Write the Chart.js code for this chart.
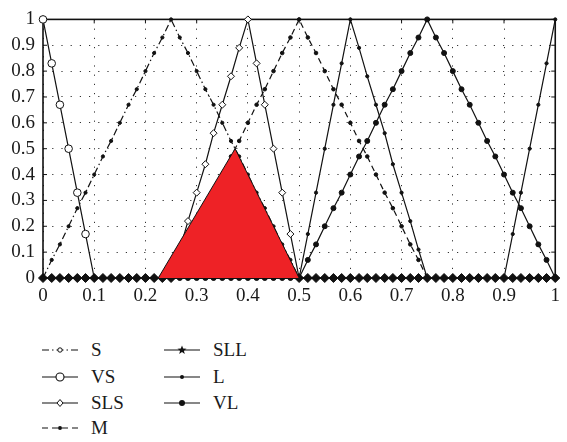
<!DOCTYPE html>
<html>
<head>
<meta charset="utf-8">
<script src="https://cdn.jsdelivr.net/npm/chart.js@4"></script>
<style>
  body { margin: 0; background: #fff; width: 567px; height: 442px; overflow: hidden; position: relative; font-family: "Liberation Serif", serif; }
  #wrap { position: absolute; left: 0; top: 0; width: 567px; height: 308px; }
  .leg { position: absolute; height: 20px; font-size: 19px; line-height: 20px; color: #1a1a1a; }
  .leg svg { position: absolute; left: 0; top: 0; }
  .leg span { position: absolute; top: 0; white-space: nowrap; }
</style>
</head>
<body>
<div id="wrap"><canvas id="fuzzyChart"></canvas></div>
<div id="legend"></div>
<script>
// sample positions on the universe [0, 1]
const xs = [
  0, 0.017, 0.033, 0.05, 0.067, 0.083, 0.1, 0.117, 0.133, 0.15,
  0.167, 0.183, 0.2, 0.217, 0.233, 0.25, 0.267, 0.283, 0.3, 0.317,
  0.333, 0.35, 0.367, 0.383, 0.4, 0.417, 0.433, 0.45, 0.467, 0.483,
  0.5, 0.517, 0.533, 0.55, 0.567, 0.583, 0.6, 0.617, 0.633, 0.65,
  0.667, 0.683, 0.7, 0.717, 0.733, 0.75, 0.767, 0.783, 0.8, 0.817,
  0.833, 0.85, 0.867, 0.883, 0.9, 0.917, 0.933, 0.95, 0.967, 0.983,
  1
];

const vsVals = [
  1, 0.83, 0.67, 0.5, 0.33, 0.17, 0, 0, 0, 0,
  0, 0, 0, 0, 0, 0, 0, 0, 0, 0,
  0, 0, 0, 0, 0, 0, 0, 0, 0, 0,
  0, 0, 0, 0, 0, 0, 0, 0, 0, 0,
  0, 0, 0, 0, 0, 0, 0, 0, 0, 0,
  0, 0, 0, 0, 0, 0, 0, 0, 0, 0,
  0
];
const sVals = [
  0, 0.07, 0.13, 0.2, 0.27, 0.33, 0.4, 0.47, 0.53, 0.6,
  0.67, 0.73, 0.8, 0.87, 0.93, 1, 0.93, 0.87, 0.8, 0.73,
  0.67, 0.6, 0.53, 0.47, 0.4, 0.33, 0.27, 0.2, 0.13, 0.07,
  0, 0, 0, 0, 0, 0, 0, 0, 0, 0,
  0, 0, 0, 0, 0, 0, 0, 0, 0, 0,
  0, 0, 0, 0, 0, 0, 0, 0, 0, 0,
  0
];
const slsVals = [
  0, 0, 0, 0, 0, 0, 0, 0, 0, 0,
  0, 0, 0, 0, 0, 0, 0.11, 0.22, 0.33, 0.44,
  0.56, 0.67, 0.78, 0.89, 1, 0.83, 0.67, 0.5, 0.33, 0.17,
  0, 0, 0, 0, 0, 0, 0, 0, 0, 0,
  0, 0, 0, 0, 0, 0, 0, 0, 0, 0,
  0, 0, 0, 0, 0, 0, 0, 0, 0, 0,
  0
];
const mVals = [
  0, 0, 0, 0, 0, 0, 0, 0, 0, 0,
  0, 0, 0, 0, 0, 0, 0.07, 0.13, 0.2, 0.27,
  0.33, 0.4, 0.47, 0.53, 0.6, 0.67, 0.73, 0.8, 0.87, 0.93,
  1, 0.93, 0.87, 0.8, 0.73, 0.67, 0.6, 0.53, 0.47, 0.4,
  0.33, 0.27, 0.2, 0.13, 0.07, 0, 0, 0, 0, 0,
  0, 0, 0, 0, 0, 0, 0, 0, 0, 0,
  0
];
const sllVals = [
  0, 0, 0, 0, 0, 0, 0, 0, 0, 0,
  0, 0, 0, 0, 0, 0, 0, 0, 0, 0,
  0, 0, 0, 0, 0, 0, 0, 0, 0, 0,
  0, 0.17, 0.33, 0.5, 0.67, 0.83, 1, 0.89, 0.78, 0.67,
  0.56, 0.44, 0.33, 0.22, 0.11, 0, 0, 0, 0, 0,
  0, 0, 0, 0, 0, 0, 0, 0, 0, 0,
  0
];
const lVals = [
  0, 0, 0, 0, 0, 0, 0, 0, 0, 0,
  0, 0, 0, 0, 0, 0, 0, 0, 0, 0,
  0, 0, 0, 0, 0, 0, 0, 0, 0, 0,
  0, 0.07, 0.13, 0.2, 0.27, 0.33, 0.4, 0.47, 0.53, 0.6,
  0.67, 0.73, 0.8, 0.87, 0.93, 1, 0.93, 0.87, 0.8, 0.73,
  0.67, 0.6, 0.53, 0.47, 0.4, 0.33, 0.27, 0.2, 0.13, 0.07,
  0
];
const vlVals = [
  0, 0, 0, 0, 0, 0, 0, 0, 0, 0,
  0, 0, 0, 0, 0, 0, 0, 0, 0, 0,
  0, 0, 0, 0, 0, 0, 0, 0, 0, 0,
  0, 0, 0, 0, 0, 0, 0, 0, 0, 0,
  0, 0, 0, 0, 0, 0, 0, 0, 0, 0,
  0, 0, 0, 0, 0, 0.17, 0.33, 0.5, 0.67, 0.83,
  1
];

// red shaded triangle
const triX = [0.225, 0.375, 0.5];
const triY = [0, 0.5, 0];

const tickVals = [0, 0.1, 0.2, 0.3, 0.4, 0.5, 0.6, 0.7, 0.8, 0.9, 1];

function pts(vals) {
  return xs.map((x, i) => ({ x: x, y: vals[i] }));
}

function series(label, vals, extra) {
  return Object.assign({
    label: label,
    data: pts(vals),
    borderColor: '#111',
    borderWidth: 1.2,
    pointBorderColor: '#111',
    pointBackgroundColor: '#111',
    pointBorderWidth: 1,
    pointRadius: 1.6,
    tension: 0,
    fill: false,
    clip: false,
    order: 1
  }, extra);
}

// box + inward ticks
const frame = {
  id: 'frame',
  beforeDatasetsDraw(chart) {
    const { ctx, chartArea: a, scales } = chart;
    ctx.save();
    ctx.strokeStyle = '#111';
    ctx.lineWidth = 1.6;
    ctx.strokeRect(a.left, a.top, a.right - a.left, a.bottom - a.top);
    ctx.lineWidth = 1;
    ctx.beginPath();
    tickVals.forEach(v => {
      const px = scales.x.getPixelForValue(v);
      ctx.moveTo(px, a.top); ctx.lineTo(px, a.top + 4);
      ctx.moveTo(px, a.bottom); ctx.lineTo(px, a.bottom - 4);
      const py = scales.y.getPixelForValue(v);
      ctx.moveTo(a.left, py); ctx.lineTo(a.left + 4, py);
      ctx.moveTo(a.right, py); ctx.lineTo(a.right - 4, py);
    });
    ctx.stroke();
    ctx.restore();
  }
};

const tickFont = { family: '"Liberation Serif", serif', size: 19 };

new Chart(document.getElementById('fuzzyChart'), {
  type: 'line',
  data: {
    datasets: [
      series('S', sVals, { borderDash: [7, 3, 1.5, 3], pointRadius: 1.6 }),
      series('VS', vsVals, {
        pointRadius: c => (c.raw && c.raw.y === 0 ? 0 : 3.8),
        pointBackgroundColor: '#fff'
      }),
      series('SLS', slsVals, {
        pointStyle: 'rectRot',
        pointRadius: c => (c.raw && c.raw.y === 0 ? 4.5 : 3.5),
        pointBackgroundColor: c => (c.raw && c.raw.y === 0 ? '#111' : '#fff')
      }),
      series('M', mVals, { borderDash: [6, 4], pointRadius: 1.8 }),
      series('SLL', sllVals, { pointRadius: 1.6 }),
      series('L', lVals, { pointRadius: 2.5 }),
      series('VL', vlVals, { pointRadius: 1.6 }),
      {
        label: 'area',
        data: triX.map((x, i) => ({ x: x, y: triY[i] })),
        borderColor: '#111',
        borderWidth: 1,
        backgroundColor: 'rgb(238, 34, 38)',
        fill: 'origin',
        pointRadius: 0,
        tension: 0,
        order: -1
      }
    ]
  },
  options: {
    responsive: true,
    maintainAspectRatio: false,
    animation: false,
    layout: { padding: { left: 0, right: 2, top: 10, bottom: 0 } },
    plugins: {
      legend: { display: false },
      tooltip: { enabled: false }
    },
    scales: {
      x: {
        type: 'linear',
        min: 0,
        max: 1,
        afterFit: s => { s.height = 30; },
        afterBuildTicks: s => { s.ticks = tickVals.map(v => ({ value: v })); },
        ticks: {
          color: '#1a1a1a',
          font: tickFont,
          padding: 7,
          maxRotation: 0,
          callback: v => String(Math.round(v * 10) / 10)
        },
        grid: { color: '#333', lineWidth: 1, drawTicks: false },
        border: { display: false, dash: [1.2, 8] }
      },
      y: {
        min: 0,
        max: 1,
        afterFit: s => { s.width = 43; },
        afterBuildTicks: s => { s.ticks = tickVals.map(v => ({ value: v })); },
        ticks: {
          color: '#1a1a1a',
          font: tickFont,
          padding: 8,
          callback: v => String(Math.round(v * 10) / 10)
        },
        grid: { color: '#333', lineWidth: 1, drawTicks: false },
        border: { display: false, dash: [1.2, 8] }
      }
    }
  },
  plugins: [frame]
});

// legend below the plot, two columns
const legendItems = [
  { label: 'S', col: 0, row: 0, dash: '7 3 1.5 3', marker: 'smallring' },
  { label: 'VS', col: 0, row: 1, dash: '', marker: 'ring' },
  { label: 'SLS', col: 0, row: 2, dash: '', marker: 'diamond' },
  { label: 'M', col: 0, row: 3, dash: '6 4', marker: 'dot' },
  { label: 'SLL', col: 1, row: 0, dash: '', marker: 'star' },
  { label: 'L', col: 1, row: 1, dash: '', marker: 'dot' },
  { label: 'VL', col: 1, row: 2, dash: '', marker: 'bigdot' }
];
const colX = [41, 163];
const rowY = [340, 367, 393, 418];

function markerSvg(m) {
  const c = 'cx="19" cy="10"';
  if (m === 'ring') return '<circle ' + c + ' r="4" fill="#fff" stroke="#111" stroke-width="1.1"/>';
  if (m === 'smallring') return '<circle ' + c + ' r="2.2" fill="#fff" stroke="#111" stroke-width="1"/>';
  if (m === 'diamond') return '<path d="M19 6.5 L22 10 L19 13.5 L16 10 Z" fill="#fff" stroke="#111" stroke-width="1"/>';
  if (m === 'dot') return '<circle ' + c + ' r="2" fill="#111"/>';
  if (m === 'bigdot') return '<circle ' + c + ' r="3" fill="#111"/>';
  if (m === 'star') return '<path d="M19 5.5 L20.2 8.6 L23.5 8.7 L20.9 10.8 L21.8 14 L19 12.1 L16.2 14 L17.1 10.8 L14.5 8.7 L17.8 8.6 Z" fill="#111"/>';
  return '';
}

const legendEl = document.getElementById('legend');
legendItems.forEach(it => {
  const d = document.createElement('div');
  d.className = 'leg';
  d.style.left = colX[it.col] + 'px';
  d.style.top = rowY[it.row] + 'px';
  d.innerHTML =
    '<svg width="40" height="20"><line x1="1" y1="10" x2="37" y2="10" stroke="#111" stroke-width="1.2"' +
    (it.dash ? ' stroke-dasharray="' + it.dash + '"' : '') + '/>' + markerSvg(it.marker) + '</svg>' +
    '<span style="left:50px">' + it.label + '</span>';
  legendEl.appendChild(d);
});
</script>
</body>
</html>
